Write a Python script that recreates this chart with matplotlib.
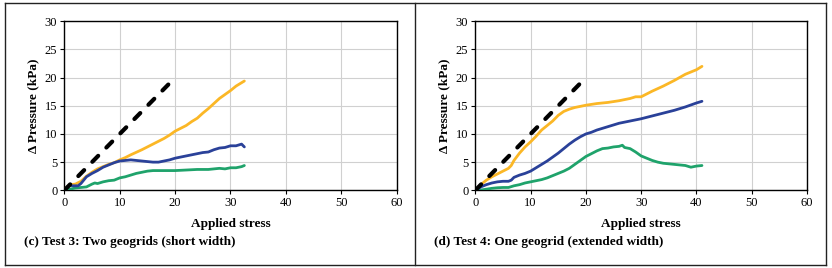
import matplotlib
matplotlib.use("Agg")
import matplotlib.pyplot as plt
from matplotlib.lines import Line2D

plt.rcParams['font.family'] = ['Liberation Serif', 'DejaVu Serif']

# ---- Data: Test 3 (two geogrids, short width) ----
t3_orange_x = [0, 0.5, 1, 2, 3, 4, 5, 6, 7, 8, 9, 10, 11, 12, 14, 16, 18, 19, 20, 21, 22, 23, 24, 25,
               26, 27, 28, 29, 30, 30.5, 31, 32, 32.5]
t3_orange_y = [0, 0.6, 1.0, 1.1, 1.6, 2.5, 3.2, 3.8, 4.2, 4.6, 4.9, 5.4, 5.8, 6.3, 7.2, 8.2, 9.2, 9.8,
               10.5, 11.0, 11.5, 12.2, 12.8, 13.7, 14.5, 15.4, 16.3, 17.0, 17.7, 18.1, 18.5, 19.1, 19.4]
t3_blue_x = [0, 0.5, 1, 1.5, 2, 2.5, 3, 4, 5, 6, 7, 8, 9, 10, 11, 12, 13, 14, 15, 16, 17, 18, 19, 20,
             21, 22, 23, 24, 25, 26, 27, 28, 29, 30, 31, 32, 32.5]
t3_blue_y = [0, 0.5, 0.9, 0.8, 0.8, 0.8, 1.2, 2.4, 3.0, 3.5, 4.1, 4.5, 4.9, 5.2, 5.3, 5.4, 5.3, 5.2,
             5.1, 5.0, 5.0, 5.2, 5.4, 5.7, 5.9, 6.1, 6.3, 6.5, 6.7, 6.8, 7.2, 7.5, 7.6, 7.9, 7.9, 8.2, 7.7]
t3_green_x = [0, 1, 2, 3, 4, 5, 5.5, 6, 7, 8, 9, 10, 11, 12, 13, 14, 15, 16, 18, 20, 22, 24, 26, 28,
              29, 30, 31, 32, 32.5]
t3_green_y = [0, 0.2, 0.4, 0.5, 0.6, 1.1, 1.3, 1.2, 1.5, 1.7, 1.8, 2.2, 2.4, 2.7, 3.0, 3.2, 3.4, 3.5,
              3.5, 3.5, 3.6, 3.7, 3.7, 3.9, 3.8, 4.0, 4.0, 4.2, 4.4]

# ---- Data: Test 4 (one geogrid, extended width) ----
t4_orange_x = [0, 1, 2, 3, 4, 5, 6, 6.5, 7, 8, 9, 10, 11, 12, 13, 14, 15, 16, 17, 18, 19, 20, 22, 24,
               26, 28, 29, 30, 32, 34, 36, 38, 40, 41]
t4_orange_y = [0, 1.0, 1.8, 2.4, 2.9, 3.4, 3.9, 4.4, 5.3, 6.6, 7.7, 8.6, 9.6, 10.7, 11.5, 12.3, 13.3,
               14.0, 14.4, 14.7, 14.9, 15.1, 15.4, 15.6, 15.9, 16.3, 16.6, 16.6, 17.6, 18.5, 19.5,
               20.6, 21.4, 22.0]
t4_blue_x = [0, 1, 2, 3, 4, 5, 6, 6.5, 7, 8, 9, 10, 11, 12, 13, 14, 15, 16, 17, 18, 19, 20, 21, 22,
             24, 26, 28, 30, 32, 34, 36, 38, 40, 41]
t4_blue_y = [0, 0.6, 1.0, 1.3, 1.5, 1.6, 1.6, 1.8, 2.3, 2.7, 3.0, 3.4, 4.0, 4.6, 5.2, 5.9, 6.6, 7.4,
             8.2, 8.9, 9.5, 10.0, 10.3, 10.7, 11.3, 11.9, 12.3, 12.7, 13.2, 13.7, 14.2, 14.8, 15.5, 15.8]
t4_green_x = [0, 1, 2, 3, 4, 5, 6, 7, 8, 9, 10, 11, 12, 13, 14, 15, 16, 17, 18, 19, 20, 21, 22, 23,
              24, 25, 26, 26.6, 27, 28, 29, 30, 31, 32, 33, 34, 35, 36, 37, 38, 39, 40, 41]
t4_green_y = [0, 0.05, 0.2, 0.35, 0.45, 0.5, 0.5, 0.8, 1.0, 1.3, 1.5, 1.7, 1.9, 2.2, 2.6, 3.0, 3.4,
              3.9, 4.6, 5.3, 6.0, 6.5, 7.0, 7.4, 7.5, 7.7, 7.8, 8.0, 7.6, 7.4, 6.8, 6.1, 5.7, 5.3,
              5.0, 4.8, 4.7, 4.6, 4.5, 4.4, 4.1, 4.3, 4.4]

# reference 1:1 dashed line
ref_x = [0, 20]
ref_y = [0, 20]

x_ticks = [0, 10, 20, 30, 40, 50, 60]
y_ticks = [0, 5, 10, 15, 20, 25, 30]

captions = ["(c) Test 3: Two geogrids (short width)", "(d) Test 4: One geogrid (extended width)"]
xlabel = "Applied stress"
ylabel = "Δ Pressure (kPa)"

C_ORANGE = '#FBB726'
C_BLUE = '#2A4199'
C_GREEN = '#1FA36B'

W, H = 832, 268
fig = plt.figure(figsize=(W / 100, H / 100), dpi=100)

panels = [
    (64.3, 396.7, (t3_orange_x, t3_orange_y), (t3_blue_x, t3_blue_y), (t3_green_x, t3_green_y)),
    (475.3, 807.0, (t4_orange_x, t4_orange_y), (t4_blue_x, t4_blue_y), (t4_green_x, t4_green_y)),
]
top_px, bot_px = 21.3, 190.3

for i, (l, r, o, b, g) in enumerate(panels):
    ax = fig.add_axes([l / W, 1 - bot_px / H, (r - l) / W, (bot_px - top_px) / H])
    ax.set_xlim(0, 60)
    ax.set_ylim(0, 30)
    ax.set_xticks(x_ticks)
    ax.set_yticks(y_ticks)
    ax.grid(True, color='#D0D0D0', lw=0.8)
    ax.set_axisbelow(True)
    for s in ax.spines.values():
        s.set_color('black')
        s.set_linewidth(1.0)
    ax.tick_params(axis='both', labelsize=9, length=3, width=0.8, pad=2, colors='black')
    ax.plot(*o, color=C_ORANGE, lw=2.0, solid_capstyle='round', zorder=3)
    ax.plot(*b, color=C_BLUE, lw=2.0, solid_capstyle='round', zorder=4)
    ax.plot(*g, color=C_GREEN, lw=2.0, solid_capstyle='round', zorder=3)
    ax.plot(ref_x, ref_y, color='black', lw=3.0, dashes=(2.0, 2.8),
            dash_capstyle='round', zorder=5)
    ax.set_xlabel(xlabel, fontsize=9.5, fontweight='bold', labelpad=6)
    ax.set_ylabel(ylabel, fontsize=9.5, fontweight='bold', labelpad=4)
    cx = 24 if i == 0 else 434
    fig.text(cx / W, 1 - 242 / H, captions[i], fontsize=9.5, fontweight='bold',
             ha='left', va='center')

# frame lines
lkw = dict(color='#222222', lw=1.0, transform=fig.transFigure)
for (x0, y0, x1, y1) in [(5, 3, 826, 3), (5, 265, 826, 265), (5, 3, 5, 265),
                         (826, 3, 826, 265), (415, 3, 415, 265)]:
    fig.add_artist(Line2D([x0 / W, x1 / W], [1 - y0 / H, 1 - y1 / H], **lkw))

fig.savefig('out.png', dpi=100)
